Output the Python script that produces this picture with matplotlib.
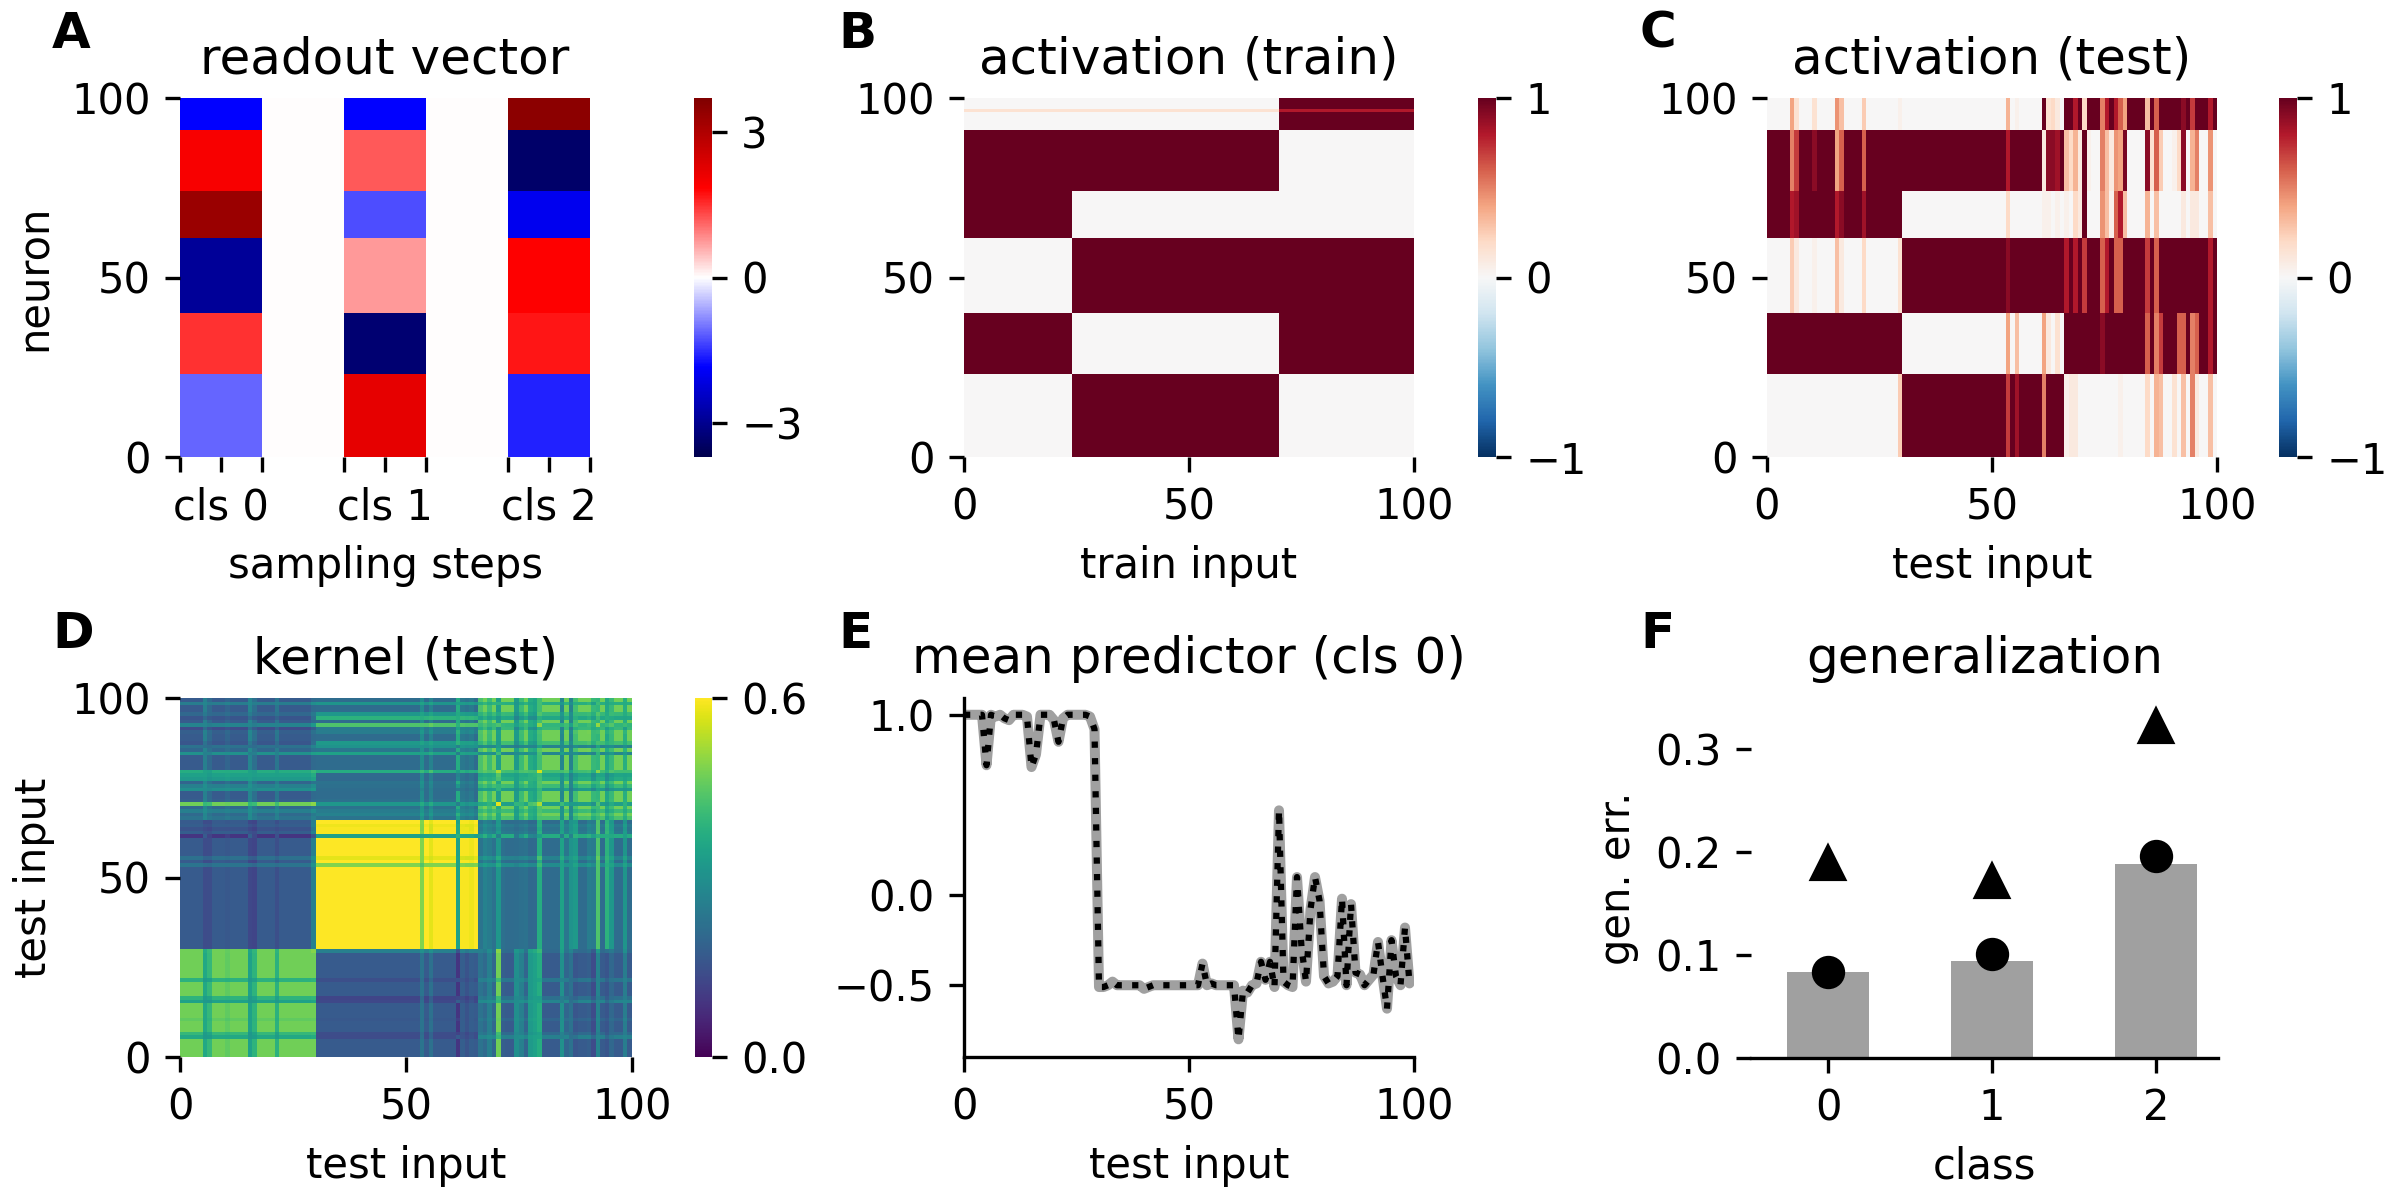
import numpy as np
import matplotlib
matplotlib.use("Agg")
import matplotlib.pyplot as plt

# ---------------- data ----------------
n_neurons = 100
band_edges = [0, 23, 40, 61, 74, 91, 100]          # neuron bands, bottom -> top
train_class_edges = [0, 24, 70, 100]
test_class_edges = [0, 30, 66, 100]
band_pattern = [        # band (bottom->top) x class : active (1) / silent (0)
    [0, 1, 0],
    [1, 0, 1],
    [0, 1, 1],
    [1, 0, 0],
    [1, 1, 0],
    [0, 0, 1],
]
readout_values = [      # band (bottom->top) x class
    [-1.1, 2.2, -1.6],
    [1.5, -3.3, 1.7],
    [-2.9, 0.75, 1.85],
    [3.3, -1.3, -2.0],
    [1.95, 1.2, -3.4],
    [-1.85, -1.85, 3.5],
]
readout_steps = 10
readout_labels = ["cls 0", "cls 1", "cls 2"]

train_faint_row = 96
train_faint_values = [0.15, 0.15, 0.8]

# test inputs whose activation deviates from the class pattern: band values b0..b5
test_column_bands = {
    5: [0, 1, 0.25, 0.8, 0.5, 0.4],
    6: [0, 1, 0.1, 0.85, 0.7, 0.15],
    10: [0, 1, 0.05, 1, 0.9, 0.15],
    15: [0, 1, 0.3, 0.8, 0.4, 0.45],
    16: [0, 1, 0.1, 0.9, 0.6, 0.3],
    21: [0, 1, 0.2, 0.85, 0.6, 0.25],
    29: [0.25, 1, 0.15, 1, 1, 0.05],
    53: [0.7, 0.4, 0.9, 0.2, 0.8, 0.35],
    55: [0.85, 0.3, 1, 0, 1, 0.05],
    61: [0.5, 0.4, 1, 0.05, 0.1, 1.0],
    62: [1, 0.1, 1, 0.05, 0.9, 0.15],
    63: [1, 0, 1, 0, 0.9, 0.2],
    64: [1, 0.15, 1, 0.05, 0.85, 0.1],
    66: [0.05, 1, 0.8, 0.05, 0.3, 1],
    67: [0.1, 1, 1, 0, 0.2, 1],
    68: [0.1, 1, 0.8, 0.2, 0.35, 0.8],
    69: [0, 1, 1, 0.1, 0.1, 1],
    70: [0, 1, 0.7, 1, 1, 0.2],
    71: [0, 1, 1, 0, 0.05, 1],
    74: [0, 0.9, 0.6, 0.45, 0.5, 0.5],
    75: [0, 1, 0.8, 0.3, 0.3, 0.8],
    76: [0, 1, 1, 0.05, 0.1, 1],
    77: [0, 1, 0.6, 0.6, 0.45, 0.8],
    78: [0.05, 1, 0.6, 0.8, 0.4, 0.6],
    79: [0, 1, 1, 0.3, 0.95, 0.4],
    84: [0.2, 0.6, 0.7, 0.35, 0.9, 0.3],
    85: [0, 1, 1, 0, 0.15, 1],
    86: [0.35, 0.5, 0.6, 0.3, 0.6, 0.6],
    87: [0.3, 0.7, 1, 0, 0.25, 1],
    90: [0.15, 1, 1, 0, 0.05, 1],
    91: [0, 0.6, 1, 0, 0.2, 1],
    92: [0.3, 0.6, 1, 0.1, 0.9, 0.9],
    94: [0.5, 0.5, 1, 0.1, 0.35, 0.7],
    95: [0.1, 0.6, 1, 0.1, 0.5, 1],
    98: [0.3, 0.8, 0.8, 0.3, 0.45, 0.8],
}

mean_predictor = [
    1.0, 1.0, 1.0, 1.0, 1.0, 0.72, 1.0, 0.99, 1.0, 0.98,
    0.97, 1.0, 1.0, 1.0, 0.99, 0.71, 0.78, 1.0, 1.0, 1.0,
    0.97, 0.85, 0.98, 1.0, 1.0, 1.0, 1.0, 1.0, 0.99, 0.92,
    -0.51, -0.51, -0.5, -0.48, -0.5, -0.5, -0.5, -0.5, -0.5, -0.5,
    -0.52, -0.51, -0.5, -0.5, -0.5, -0.5, -0.5, -0.5, -0.5, -0.5,
    -0.5, -0.5, -0.5, -0.38, -0.5, -0.49, -0.5, -0.5, -0.5, -0.5,
    -0.5, -0.8, -0.53, -0.54, -0.5, -0.49, -0.37, -0.47, -0.37, -0.51,
    0.47, -0.48, -0.5, -0.51, 0.10, -0.29, -0.48, -0.08, 0.10, -0.03,
    -0.45, -0.49, -0.48, -0.45, -0.02, -0.5, -0.05, -0.43, -0.44, -0.5,
    -0.47, -0.44, -0.26, -0.45, -0.63, -0.25, -0.45, -0.5, -0.18, -0.49,
]

classes = [0, 1, 2]
gen_err_bar = [0.084, 0.094, 0.189]
gen_err_circle = [0.084, 0.101, 0.196]
gen_err_triangle = [0.19, 0.172, 0.323]

# ---------------- build matrices ----------------
n_cls = len(classes)
readout = np.zeros((n_neurons, readout_steps * (2 * n_cls - 1)))
for k in range(n_cls):
    for b in range(len(band_edges) - 1):
        readout[band_edges[b]:band_edges[b + 1],
                2 * k * readout_steps:(2 * k + 1) * readout_steps] = readout_values[b][k]

act_train = np.zeros((n_neurons, train_class_edges[-1]))
for k in range(n_cls):
    for b in range(len(band_edges) - 1):
        act_train[band_edges[b]:band_edges[b + 1],
                  train_class_edges[k]:train_class_edges[k + 1]] = band_pattern[b][k]
    act_train[train_faint_row, train_class_edges[k]:train_class_edges[k + 1]] = train_faint_values[k]

act_test = np.zeros((n_neurons, test_class_edges[-1]))
for k in range(n_cls):
    for b in range(len(band_edges) - 1):
        act_test[band_edges[b]:band_edges[b + 1],
                 test_class_edges[k]:test_class_edges[k + 1]] = band_pattern[b][k]
for col, vals in test_column_bands.items():
    for b in range(len(band_edges) - 1):
        act_test[band_edges[b]:band_edges[b + 1], col] = vals[b]

kernel_test = act_test.T @ act_test / n_neurons

# ---------------- figure ----------------
W, H = 2400, 1200
fig = plt.figure(figsize=(8, 4), dpi=300)


def add_ax(x0, y0, x1, y1):
    return fig.add_axes([x0 / W, 1 - y1 / H, (x1 - x0) / W, (y1 - y0) / H])


def heat(ax, data, cmap, vmin, vmax):
    ny, nx = data.shape
    im = ax.pcolormesh(np.arange(nx + 1), np.arange(ny + 1), data, cmap=cmap,
                       vmin=vmin, vmax=vmax, shading="flat", antialiased=False,
                       linewidth=0, rasterized=True)
    ax.set_xlim(0, nx)
    ax.set_ylim(0, ny)
    for s in ax.spines.values():
        s.set_visible(False)
    ax.set_yticks([0, 50, 100])
    return im


def cbar(im, x0, x1, y0, y1, ticks):
    cax = add_ax(x0, y0, x1, y1)
    cb = fig.colorbar(im, cax=cax, ticks=ticks)
    cb.outline.set_visible(False)
    return cb


def letter(x, y, s):
    fig.text(x / W, 1 - y / H, s, fontsize=12, fontweight="bold", va="top", ha="left")


# A
axA = add_ax(180, 98, 590, 457)
imA = heat(axA, readout, "seismic", -3.7, 3.7)
s = readout_steps
axA.set_xticks([0, s / 2, s, 2 * s, 2.5 * s, 3 * s, 4 * s, 4.5 * s, 5 * s])
axA.set_xticklabels(["", readout_labels[0], "", "", readout_labels[1], "", "", readout_labels[2], ""])
axA.set_xlabel("sampling steps")
axA.set_ylabel("neuron")
axA.set_title("readout vector")
cbar(imA, 694, 712, 98, 457, [-3, 0, 3])

# B
axB = add_ax(964, 98, 1414, 457)
imB = heat(axB, act_train, "RdBu_r", -1, 1)
axB.set_xticks([0, 50, 100])
axB.set_xlabel("train input")
axB.set_title("activation (train)")
cbar(imB, 1478, 1496, 98, 457, [-1, 0, 1])

# C
axC = add_ax(1767, 98, 2217, 457)
imC = heat(axC, act_test, "RdBu_r", -1, 1)
axC.set_xticks([0, 50, 100])
axC.set_xlabel("test input")
axC.set_title("activation (test)")
cbar(imC, 2279, 2297, 98, 457, [-1, 0, 1])

# D
axD = add_ax(180, 698, 632, 1057)
imD = heat(axD, kernel_test, "viridis", 0, 0.6)
axD.set_xticks([0, 50, 100])
axD.set_xlabel("test input")
axD.set_ylabel("test input")
axD.set_title("kernel (test)")
cbar(imD, 695, 712, 698, 1057, [0, 0.6])

# E
axE = add_ax(964, 698, 1414, 1057)
xs = np.arange(len(mean_predictor))
axE.plot(xs, mean_predictor, color="#a0a0a0", lw=2.4, solid_capstyle="round")
axE.plot(xs, mean_predictor, color="k", lw=1.5, ls=":")
axE.set_xlim(0, 100)
axE.set_ylim(-0.898, 1.093)
axE.set_xticks([0, 50, 100])
axE.set_yticks([-0.5, 0.0, 1.0])
axE.spines["top"].set_visible(False)
axE.spines["right"].set_visible(False)
axE.set_xlabel("test input")
axE.set_title("mean predictor (cls 0)")

# F
axF = add_ax(1751, 698, 2218, 1058)
axF.bar(classes, gen_err_bar, width=0.5, color="#a0a0a0")
axF.plot(classes, gen_err_circle, "o", color="k", ms=7)
axF.plot(classes, gen_err_triangle, "^", color="k", ms=7.5)
axF.set_xlim(-0.47, 2.38)
axF.set_ylim(0, 0.35)
axF.set_xticks(classes)
axF.set_yticks([0.0, 0.1, 0.2, 0.3])
for side in ["top", "right", "left"]:
    axF.spines[side].set_visible(False)
axF.set_xlabel("class")
axF.set_ylabel("gen. err.")
axF.set_title("generalization")

letter(52, 10, "A")
letter(838, 10, "B")
letter(1640, 10, "C")
letter(52, 610, "D")
letter(838, 610, "E")
letter(1640, 610, "F")

fig.savefig("out.png", dpi=300)
